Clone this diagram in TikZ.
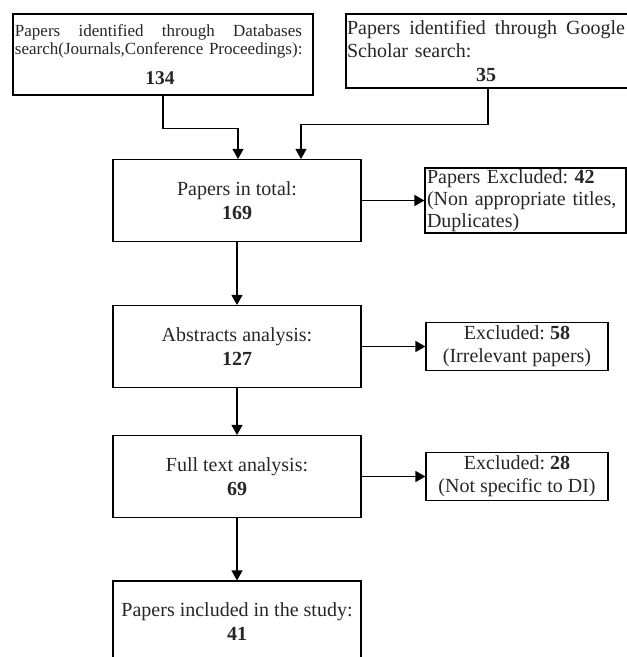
\documentclass[tikz,border=0pt]{standalone}
\usepackage{fontspec}
\setmainfont{Liberation Serif}
\usetikzlibrary{arrows.meta}

\begin{document}
\begin{tikzpicture}[x=1pt, y=-1pt, >={Triangle[width=11pt,length=10pt]}]
        \tikzset{stage/.style={rectangle, draw, line width=1.1pt, minimum width=248pt, minimum height=82pt, align=center, text=black!85, font=\fontsize{20}{23}\selectfont\frenchspacing, inner sep=1pt},
                 excl/.style={stage, minimum width=182pt, minimum height=48pt, inner ysep=0pt},
                 flow/.style={->, line width=1.1pt}}
        \useasboundingbox (0,0) rectangle (627,657);
        \clip (0,0) rectangle (627,657);
        \node[stage, minimum width=300pt, minimum height=81pt, text width=296pt, inner xsep=2pt, align=left, font=\fontsize{17}{18}\selectfont] (dbs) at (163,54.5)
            {\makebox[287pt][s]{Papers\hfill identified\hfill through\hfill Databases}\\
             search(Journals,Conference Proceedings):\\[12pt]
             \makebox[290pt]{\fontsize{19.5}{22}\selectfont\textbf{134}}};
        \node[stage, minimum width=284pt, minimum height=74pt, text width=282pt, align=left] (gsc) at (488,51)
            {\makebox[278pt][s]{Papers\hfill identified\hfill through\hfill Google}\\
             Scholar search:\\[1pt]
             \makebox[278pt]{\textbf{35}}};
        \node[stage] (total) at (237,200.5) {Papers in total:\\[1pt]\textbf{169}};
        \node[excl, minimum width=201pt, minimum height=65pt, text width=197pt, inner xsep=2pt, align=left, font=\fontsize{20}{22}\selectfont\frenchspacing] (ex1) at (525.5,200.5)
            {Papers Excluded: \textbf{42}\\(Non appropriate titles,\\Duplicates)};
        \node[stage] (abs) at (237,346.5) {Abstracts analysis:\\[1pt]\textbf{127}};
        \node[excl] (ex2) at (517,346.5) {Excluded: \textbf{58}\\(Irrelevant papers)};
        \node[stage] (full) at (237,476.5) {Full text analysis:\\[1pt]\textbf{69}};
        \node[excl] (ex3) at (517,476.5) {Excluded: \textbf{28}\\(Not specific to DI)};
        \node[stage] (incl) at (237,622) {Papers included in the study:\\[1pt]\textbf{41}};

        \draw[flow] (dbs.south) -- ++(0,33) -| ([xshift=1pt]total.north);
        \draw[flow] (gsc.south) -- ++(0,36) -| ([xshift=64pt]total.north);
        \draw[flow] (total.east) -- (ex1.west);
        \draw[flow] (total.south) -- (abs.north);
        \draw[flow] (abs.east) -- (ex2.west);
        \draw[flow] (abs.south) -- (full.north);
        \draw[flow] (full.east) -- (ex3.west);
        \draw[flow] (full.south) -- (incl.north);
    \end{tikzpicture}
\end{document}
